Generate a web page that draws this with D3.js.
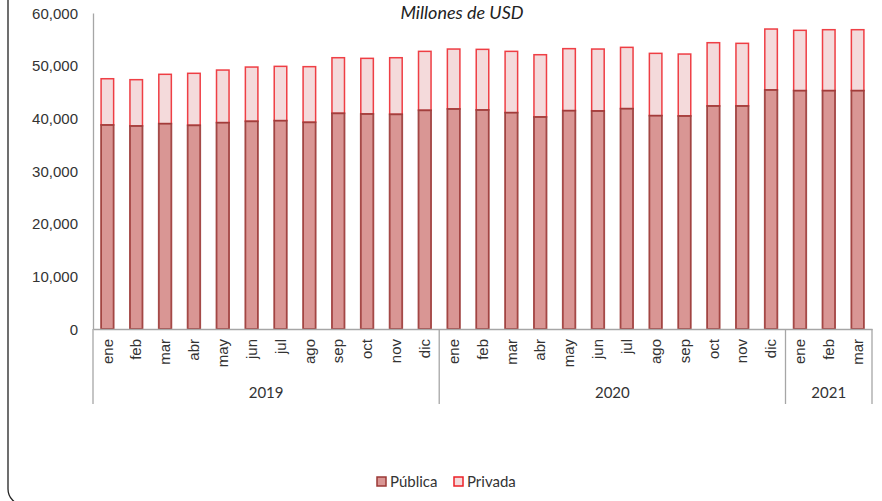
<!DOCTYPE html>
<html>
<head>
<meta charset="utf-8">
<script src="https://cdn.jsdelivr.net/npm/d3@7"></script>
<style>
  html, body { margin: 0; padding: 0; background: #fff; }
  svg { display: block; font-family: Lato, "Open Sans", sans-serif; }
</style>
</head>
<body>
<svg id="chart" width="882" height="501"></svg>
<script>
const months = ["ene","feb","mar","abr","may","jun","jul","ago","sep","oct","nov","dic",
                "ene","feb","mar","abr","may","jun","jul","ago","sep","oct","nov","dic",
                "ene","feb","mar"];
const years = ["2019","2020","2021"];
const yearCounts = [12, 12, 3];
const publica = [38730,38540,38980,38670,39170,39430,39550,39240,40950,40820,40760,41520,
                 41770,41580,41070,40250,41450,41390,41830,40500,40440,42340,42340,45380,
                 45250,45250,45250];
const total = [47520,47340,48360,48550,49170,49740,49870,49810,51510,51390,51510,52720,
               53160,53100,52720,52080,53230,53160,53480,52340,52210,54360,54240,56960,
               56710,56830,56830];
const privada = total.map((t, i) => t - publica[i]);
const yTicks = [0,10000,20000,30000,40000,50000,60000];
const seriesNames = ["Pública","Privada"];

const svg = d3.select("#chart");
const L = 93, R = 872, T = 13, B = 329;
const FS = 15;

// outer rounded border
svg.append("rect").attr("x", 8).attr("y", -20).attr("width", 900).attr("height", 525)
  .attr("rx", 16).attr("fill", "none").attr("stroke", "#222").attr("stroke-width", 1.3);

const idx = months.map((m, i) => i);
const x = d3.scaleBand().domain(idx).range([L, R]).paddingInner(0.565).paddingOuter(0.28);
const y = d3.scaleLinear().domain([0, 60000]).range([B, T]);

// y axis
const yAxis = d3.axisLeft(y).tickValues(yTicks).tickSize(0).tickPadding(15)
  .tickFormat(d3.format(","));
const gy = svg.append("g").attr("transform", `translate(${L},0)`).call(yAxis);
gy.select(".domain").attr("stroke", "#a6a6a6").attr("stroke-width", 1.3);
gy.selectAll("text").attr("font-size", FS).attr("fill", "#333").attr("dy", "0.35em");

// bars
const stackData = idx.map(i => ({ i, pub: publica[i], priv: privada[i] }));
const bw = x.bandwidth();
svg.append("g").selectAll("rect").data(stackData).join("rect")
  .attr("x", d => x(d.i)).attr("width", bw)
  .attr("y", d => y(d.pub + d.priv)).attr("height", d => y(d.pub) - y(d.pub + d.priv))
  .attr("fill", "#f4dadb").attr("stroke", "#ec2027").attr("stroke-width", 1.5)
  .attr("stroke-opacity", 0.85);
svg.append("g").selectAll("rect").data(stackData).join("rect")
  .attr("x", d => x(d.i)).attr("width", bw)
  .attr("y", d => y(d.pub)).attr("height", d => y(0) - y(d.pub))
  .attr("fill", "#d99694").attr("stroke", "#9b3836").attr("stroke-width", 1.8)
  .attr("stroke-opacity", 0.9);

// x axis line
const xAxis = d3.axisBottom(x).tickSize(0).tickFormat(i => months[i]);
const gx = svg.append("g").attr("transform", `translate(0,${B})`).call(xAxis);
gx.select(".domain").attr("stroke", "#a6a6a6").attr("stroke-width", 1.3);
gx.selectAll("text")
  .attr("transform", "rotate(-90)")
  .attr("text-anchor", "end")
  .attr("x", -10).attr("y", 0).attr("dy", "0.35em")
  .attr("font-size", FS).attr("fill", "#333");

// year separators and labels
let acc = 0;
const bounds = [0];
yearCounts.forEach(c => { acc += c; bounds.push(acc); });
const sepX = b => b === 0 ? L : (b === months.length ? R : (x(b - 1) + bw + x(b)) / 2);
svg.append("g").selectAll("line").data(bounds).join("line")
  .attr("x1", b => sepX(b)).attr("x2", b => sepX(b))
  .attr("y1", B).attr("y2", 404)
  .attr("stroke", "#a6a6a6").attr("stroke-width", 1.3);
svg.append("g").selectAll("text").data(years).join("text")
  .attr("x", (d, k) => (sepX(bounds[k]) + sepX(bounds[k + 1])) / 2)
  .attr("y", 398)
  .attr("text-anchor", "middle").attr("font-size", FS).attr("fill", "#333")
  .text(d => d);

// title
svg.append("text").attr("x", 462).attr("y", 19).attr("text-anchor", "middle")
  .attr("font-size", 18).attr("font-style", "italic").attr("fill", "#222")
  .text("Millones de USD");

// legend
const legend = [
  { name: seriesNames[0], fill: "#d99694", stroke: "#9b3836", x: 377 },
  { name: seriesNames[1], fill: "#f4dadb", stroke: "#ec2027", x: 454 }
];
const lg = svg.append("g").selectAll("g").data(legend).join("g")
  .attr("transform", d => `translate(${d.x},477)`);
lg.append("rect").attr("width", 9).attr("height", 9)
  .attr("fill", d => d.fill).attr("stroke", d => d.stroke).attr("stroke-width", 1.5);
lg.append("text").attr("x", 13).attr("y", 4.5).attr("dy", "0.35em")
  .attr("font-size", FS).attr("fill", "#333").text(d => d.name);
</script>
</body>
</html>
